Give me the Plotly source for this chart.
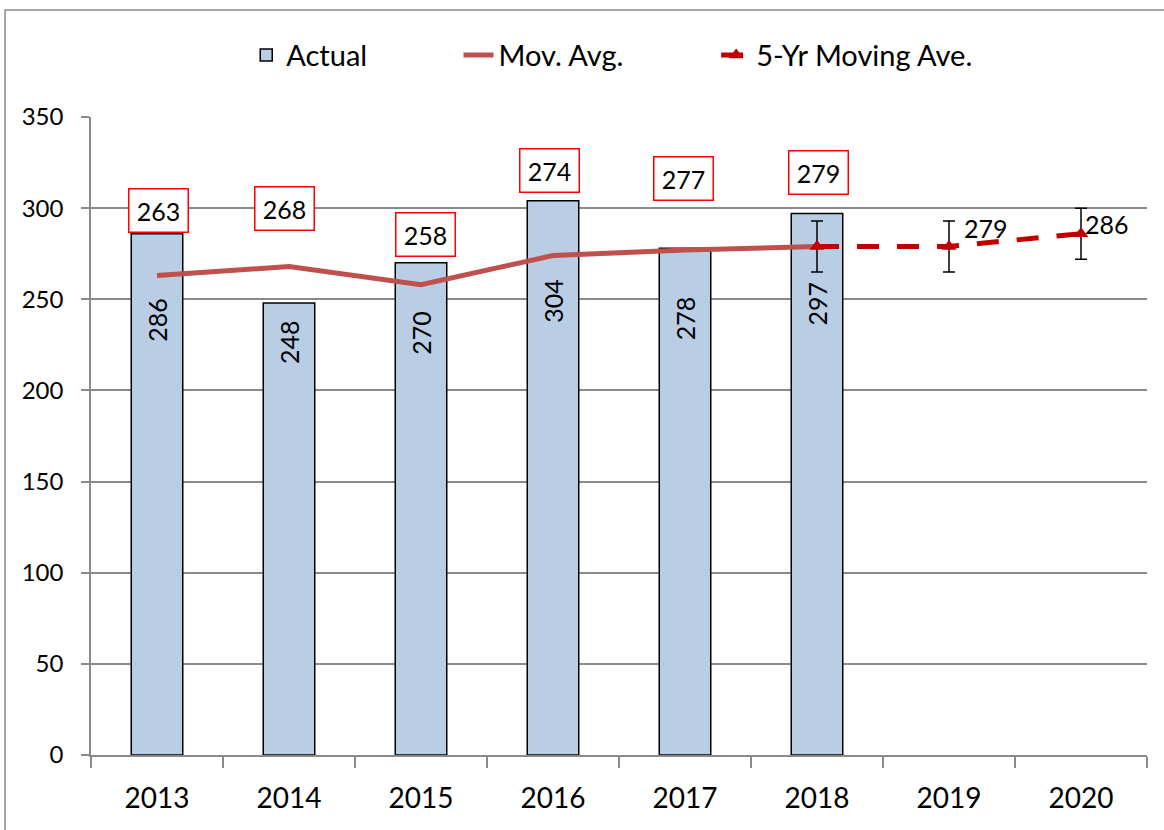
import plotly.graph_objects as go

# ---- data ----
years = ["2013", "2014", "2015", "2016", "2017", "2018", "2019", "2020"]
actual_years = ["2013", "2014", "2015", "2016", "2017", "2018"]
actual = [286, 248, 270, 304, 278, 297]
mov_avg = [263, 268, 258, 274, 277, 279]
fcst_years = ["2018", "2019", "2020"]
fcst = [279, 279, 286]
fcst_err = [14, 14, 14]
y_ticks = [0, 50, 100, 150, 200, 250, 300, 350]

# label pixel offsets (styling)
box_shift_x = [1, -5, 4, -4, -2, 1]
box_shift_y = [65, 58, 50, 85, 72, 74]
bar_label_shift = [-86, -39, -70, -100, -70, -90]
fc_label_shift_x = [37, 26]
fc_label_shift_y = [18, 10]

FONT = "Lato"
GRAY = "#8a8a8a"

fig = go.Figure()
fig.add_trace(go.Bar(
    x=actual_years, y=actual, name="Actual", width=0.39, legend="legend",
    marker=dict(color="#B9CDE5", line=dict(color="black", width=1.5)),
))
fig.add_trace(go.Scatter(
    x=actual_years, y=mov_avg, name="Mov. Avg.", mode="lines", legend="legend2",
    line=dict(color="#C0504D", width=5),
))
fig.add_trace(go.Scatter(
    x=fcst_years, y=fcst, name="5-Yr Moving Ave.", mode="lines+markers", legend="legend3",
    line=dict(color="#C00000", width=5, dash="22px,18px"),
    marker=dict(symbol="triangle-up", size=13, color="#C00000"),
    error_y=dict(type="data", array=fcst_err, color="black", thickness=1.5, width=6),
))

def cat_idx(yr):
    return years.index(yr)

annotations = []
for i, (yr, v) in enumerate(zip(actual_years, mov_avg)):
    annotations.append(dict(
        x=cat_idx(yr), y=v, text=str(v), showarrow=False, xanchor="center", yanchor="middle",
        xshift=box_shift_x[i], yshift=box_shift_y[i],
        font=dict(family=FONT, size=25, color="black"),
        bgcolor="white", bordercolor="#FF0000", borderwidth=1.5, borderpad=6,
        width=46, height=30,
    ))
for i, (yr, v) in enumerate(zip(actual_years, actual)):
    annotations.append(dict(
        x=cat_idx(yr), y=v, text=str(v), showarrow=False, xanchor="center", yanchor="middle",
        yshift=bar_label_shift[i], textangle=-90,
        font=dict(family=FONT, size=25, color="black"),
    ))
for i, (yr, v) in enumerate(zip(fcst_years[1:], fcst[1:])):
    annotations.append(dict(
        x=cat_idx(yr), y=v, text=str(v), showarrow=False, xanchor="center", yanchor="middle",
        xshift=fc_label_shift_x[i], yshift=fc_label_shift_y[i],
        font=dict(family=FONT, size=25, color="black"),
    ))

legend_common = dict(
    orientation="h", xanchor="left", y=1.097, yanchor="middle",
    font=dict(family=FONT, size=29, color="black"), bgcolor="rgba(0,0,0,0)",
)

fig.update_layout(
    width=1164, height=830,
    margin=dict(l=91, r=17, t=117, b=75),
    paper_bgcolor="white", plot_bgcolor="white",
    font=dict(family=FONT, color="black"),
    showlegend=True,
    legend=dict(x=0.147, **legend_common),
    legend2=dict(x=0.348, **legend_common),
    legend3=dict(x=0.592, **legend_common),
    annotations=annotations,
    shapes=[dict(
        type="rect", xref="paper", yref="paper",
        x0=-0.0814, x1=1.05, y0=-0.2, y1=1.1677,
        line=dict(color=GRAY, width=1.5), fillcolor="rgba(0,0,0,0)", layer="below",
    )],
)
fig.update_xaxes(
    type="category", categoryorder="array", categoryarray=years,
    range=[-0.5, 7.5], tickson="boundaries", ticks="outside", ticklen=11,
    tickwidth=1.5, tickcolor=GRAY, showline=True, linecolor=GRAY, linewidth=1.5,
    showgrid=False, tickfont=dict(family=FONT, size=28, color="black"),
    ticklabelstandoff=18,
)
fig.update_yaxes(
    range=[0, 350], tickvals=y_ticks, ticks="outside", ticklen=8, tickwidth=1.5,
    tickcolor=GRAY, showline=True, linecolor=GRAY, linewidth=1.5,
    showgrid=True, gridcolor=GRAY, gridwidth=1.5, zeroline=False,
    tickfont=dict(family=FONT, size=24, color="black"), ticklabelstandoff=13,
)

fig.write_html("out.html", config={"displayModeBar": False},
               post_script="document.body.style.margin='0';")
